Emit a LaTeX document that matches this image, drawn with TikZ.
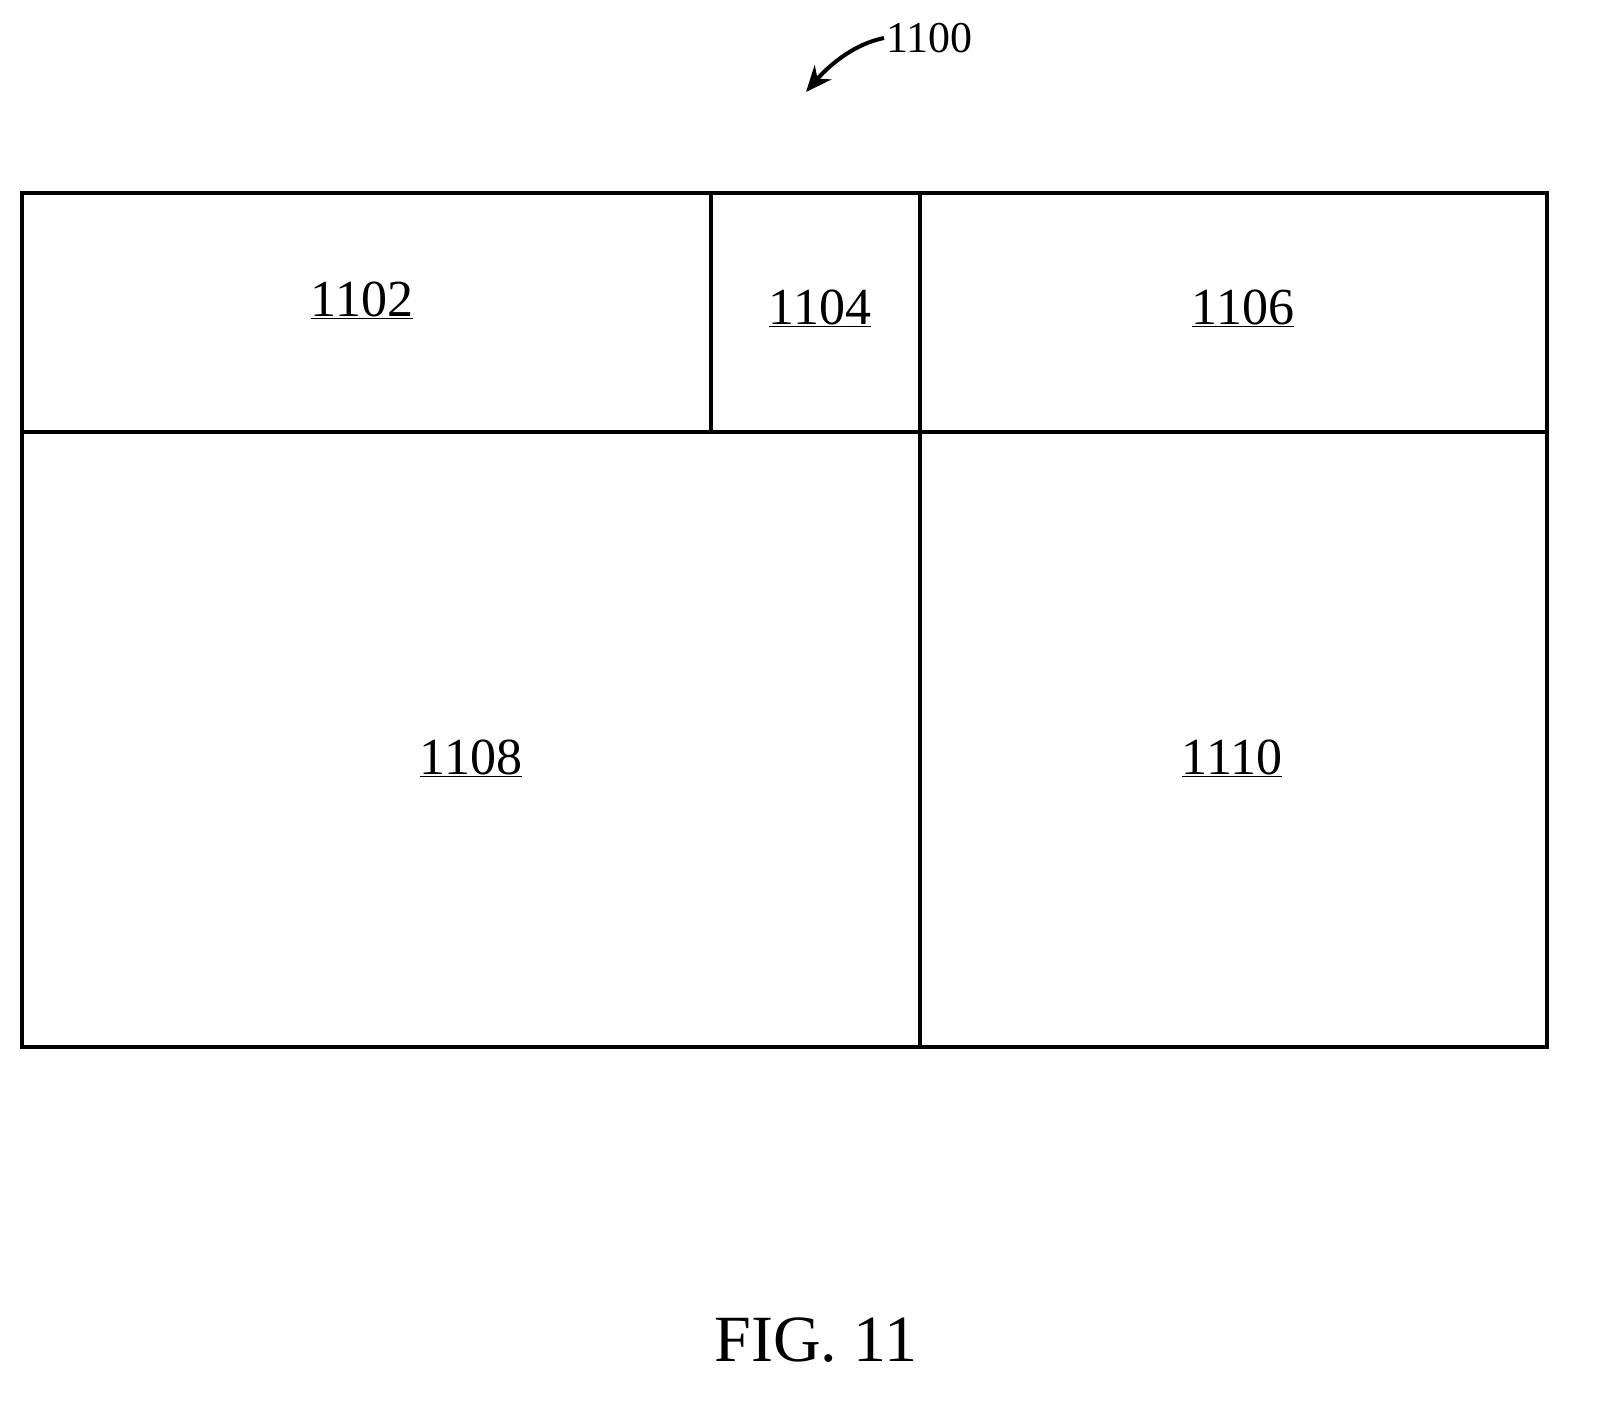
\documentclass[tikz,border=0pt]{standalone}
\usepackage{fontspec}
\setmainfont{Liberation Serif}
\usetikzlibrary{arrows.meta}
\begin{document}
\begin{tikzpicture}[x=1pt,y=-1pt,
  lbl/.style={font=\fontsize{52}{58}\selectfont},
  box/.style={line width=4pt}]
\useasboundingbox (0,0) rectangle (1607,1418);
\draw[box] (22,193) rectangle (1547,1047);
\draw[box] (22,432) -- (1547,432);
\draw[box] (711,193) -- (711,432);
\draw[box] (920,193) -- (920,1047);
\node[lbl] (a) at (362,300) {\underline{1102}};
\node[lbl] (b) at (820,308) {\underline{1104}};
\node[lbl] (c) at (1243,308) {\underline{1106}};
\node[lbl] (d) at (471,758) {\underline{1108}};
\node[lbl] (e) at (1232,758) {\underline{1110}};
\node[font=\fontsize{44}{50}\selectfont,anchor=west,inner sep=2pt] (ref) at (884,38) {1100};
\coordinate (tip) at (806,92);
\draw[line width=4pt,-{Stealth[length=26pt,width=22pt]}] (ref.west) .. controls (850,45) and (825,70) .. (tip);
\node[font=\fontsize{66}{72}\selectfont] (fig) at (816,1340) {FIG. 11};
\end{tikzpicture}
\end{document}
